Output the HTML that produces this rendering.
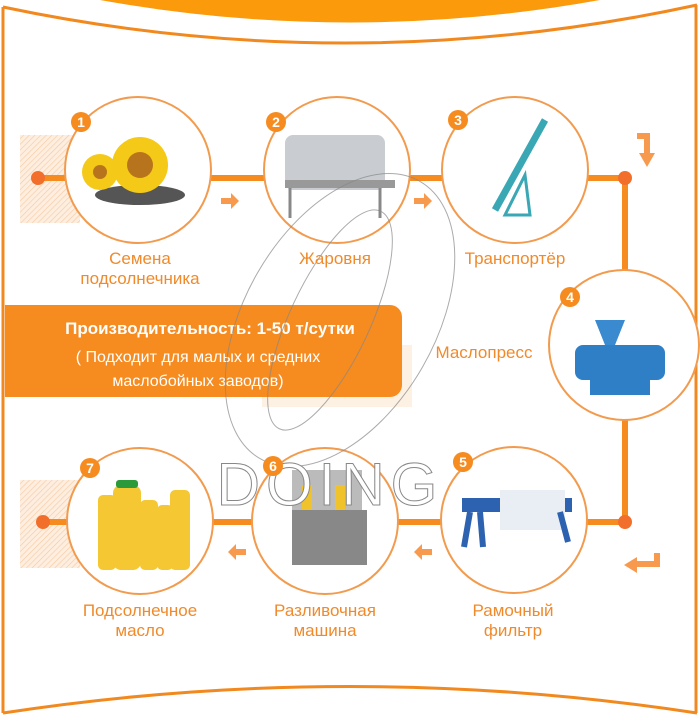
<!DOCTYPE html>
<html><head><meta charset="utf-8"><style>
html,body{margin:0;padding:0;background:#fff}
svg{display:block}
text{font-family:"Liberation Sans",sans-serif}
</style></head><body>
<svg width="700" height="719" viewBox="0 0 700 719" xmlns="http://www.w3.org/2000/svg">
<defs>
<pattern id="h" width="4" height="4" patternUnits="userSpaceOnUse" patternTransform="rotate(45)">
<rect width="4" height="4" fill="#fdeee0"/><line x1="0" y1="0" x2="0" y2="4" stroke="#f6c9a0" stroke-width="1.2"/></pattern>
</defs>
<!-- frame -->
<path d="M100,0 Q350,45 600,0 Z" fill="#fb9a0a"/>
<path d="M3,7 Q350,80 697,5" fill="none" stroke="#f1891f" stroke-width="3"/>
<line x1="3" y1="7" x2="3" y2="713" stroke="#f1891f" stroke-width="3"/>
<line x1="696" y1="5" x2="696" y2="713" stroke="#f1891f" stroke-width="3"/>
<path d="M3,713 Q350,660 697,713" fill="none" stroke="#f1891f" stroke-width="3"/>
<!-- hatched -->
<rect x="20" y="135" width="60" height="88" fill="url(#h)"/>
<rect x="20" y="480" width="60" height="88" fill="url(#h)"/>
<rect x="262" y="345" width="150" height="62" fill="#fdf1e4"/>
<!-- lines -->
<g stroke="#f68b1f" stroke-width="6" fill="none">
<line x1="38" y1="178" x2="625" y2="178"/>
<line x1="625" y1="178" x2="625" y2="522"/>
<line x1="38" y1="522" x2="625" y2="522"/>
</g>
<g fill="#f26f2b"><circle cx="38" cy="178" r="7"/><circle cx="625" cy="178" r="7"/><circle cx="625" cy="522" r="7"/><circle cx="43" cy="522" r="7"/></g>
<!-- small arrows -->
<g fill="#f89a4e">
<path d="M221,198h10v-5l8,8l-8,8v-5h-10z"/>
<path d="M414,198h10v-5l8,8l-8,8v-5h-10z"/>
<path d="M246,549h-10v-5l-8,8l8,8v-5h10z"/>
<path d="M432,549h-10v-5l-8,8l8,8v-5h10z"/>
<path d="M637,133h13v20h5l-8,14l-8,-14h5v-14h-7z"/>
<path d="M660,553v14h-23v6l-13,-8l13,-8v4h17v-8z"/>
</g>
<!-- banner -->
<path d="M5,305H390a12,12 0 0 1 12,12V385a12,12 0 0 1 -12,12H5z" fill="#f68b1f"/>
<g fill="#fff" font-weight="bold" text-anchor="middle">
<text x="210" y="334" font-size="17">Производительность: 1-50 т/сутки</text>
<text x="198" y="362" font-size="16" font-weight="normal">( Подходит для малых и средних</text>
<text x="198" y="386" font-size="16" font-weight="normal">маслобойных заводов)</text>
</g>
<!-- circles -->
<g fill="#fff" stroke="#f29b4e" stroke-width="2">
<circle cx="138" cy="170" r="73"/><circle cx="337" cy="170" r="73"/><circle cx="515" cy="170" r="73"/>
<circle cx="624" cy="345" r="75"/>
<circle cx="514" cy="520" r="73"/><circle cx="325" cy="521" r="73"/><circle cx="140" cy="521" r="73"/>
</g>
<!-- images simplified -->
<ellipse cx="140" cy="195" rx="45" ry="10" fill="#555"/>
<circle cx="140" cy="165" r="28" fill="#f5c917"/><circle cx="140" cy="165" r="13" fill="#b8741c"/>
<circle cx="100" cy="172" r="18" fill="#f5c917"/><circle cx="100" cy="172" r="7" fill="#b8741c"/>
<rect x="285" y="135" width="100" height="55" rx="8" fill="#c9cdd2"/>
<rect x="285" y="180" width="110" height="8" fill="#999"/>
<path d="M290,188v30M380,188v30" stroke="#888" stroke-width="3"/>
<path d="M495,210L545,120" stroke="#3aa7b5" stroke-width="7"/>
<path d="M505,215h25l-5,-40z" fill="none" stroke="#3aa7b5" stroke-width="3"/>
<rect x="575" y="345" width="90" height="35" rx="8" fill="#2f7fc7"/>
<path d="M595,320h30l-10,25h-10z" fill="#3a8ad0"/>
<rect x="590" y="375" width="60" height="20" fill="#2f7fc7"/>
<rect x="462" y="498" width="110" height="14" fill="#2c62b0"/>
<rect x="500" y="490" width="65" height="40" fill="#e8eef4"/>
<path d="M470,512l-6,35M480,512l3,35M560,512l8,30" stroke="#2c62b0" stroke-width="6"/>
<rect x="292" y="470" width="70" height="40" fill="#bbb"/>
<rect x="292" y="510" width="75" height="55" fill="#888"/>
<rect x="302" y="485" width="10" height="25" fill="#f0c22c"/><rect x="335" y="485" width="10" height="25" fill="#f0c22c"/>
<g fill="#f3c21d" opacity="0.9">
<rect x="98" y="495" width="18" height="75" rx="5"/><rect x="113" y="485" width="28" height="85" rx="8"/>
<rect x="140" y="500" width="18" height="70" rx="5"/><rect x="157" y="505" width="16" height="65" rx="5"/><rect x="170" y="490" width="20" height="80" rx="5"/>
</g>
<rect x="116" y="480" width="22" height="8" rx="3" fill="#2a9a3a"/>
<!-- watermark -->
<g fill="none" stroke="#888" stroke-width="1" opacity="0.7">
<ellipse cx="340" cy="320" rx="160" ry="95" transform="rotate(-60 340 320)"/>
<ellipse cx="330" cy="320" rx="120" ry="40" transform="rotate(-65 330 320)"/>
</g>
<text x="330" y="505" font-family="Liberation Serif,serif" font-size="60" fill="#fff" stroke="#888" stroke-width="1" text-anchor="middle" letter-spacing="6">DOING</text>
<!-- badges -->
<g fill="#f68b1f"><circle cx="81" cy="122" r="10"/><circle cx="276" cy="122" r="10"/><circle cx="458" cy="120" r="10"/><circle cx="570" cy="297" r="10"/><circle cx="463" cy="462" r="10"/><circle cx="273" cy="466" r="10"/><circle cx="90" cy="468" r="10"/></g>
<g fill="#fff" font-size="14" font-weight="bold" text-anchor="middle">
<text x="81" y="127">1</text><text x="276" y="127">2</text><text x="458" y="125">3</text><text x="570" y="302">4</text><text x="463" y="467">5</text><text x="273" y="471">6</text><text x="90" y="473">7</text>
</g>
<!-- labels -->
<g fill="#f08a2a" font-size="17" text-anchor="middle">
<text x="140" y="264">Семена</text><text x="140" y="284">подсолнечника</text>
<text x="335" y="264">Жаровня</text>
<text x="515" y="264">Транспортёр</text>
<text x="484" y="358">Маслопресс</text>
<text x="140" y="616">Подсолнечное</text><text x="140" y="636">масло</text>
<text x="325" y="616">Разливочная</text><text x="325" y="636">машина</text>
<text x="513" y="616">Рамочный</text><text x="513" y="636">фильтр</text>
</g>
</svg>
</body></html>
